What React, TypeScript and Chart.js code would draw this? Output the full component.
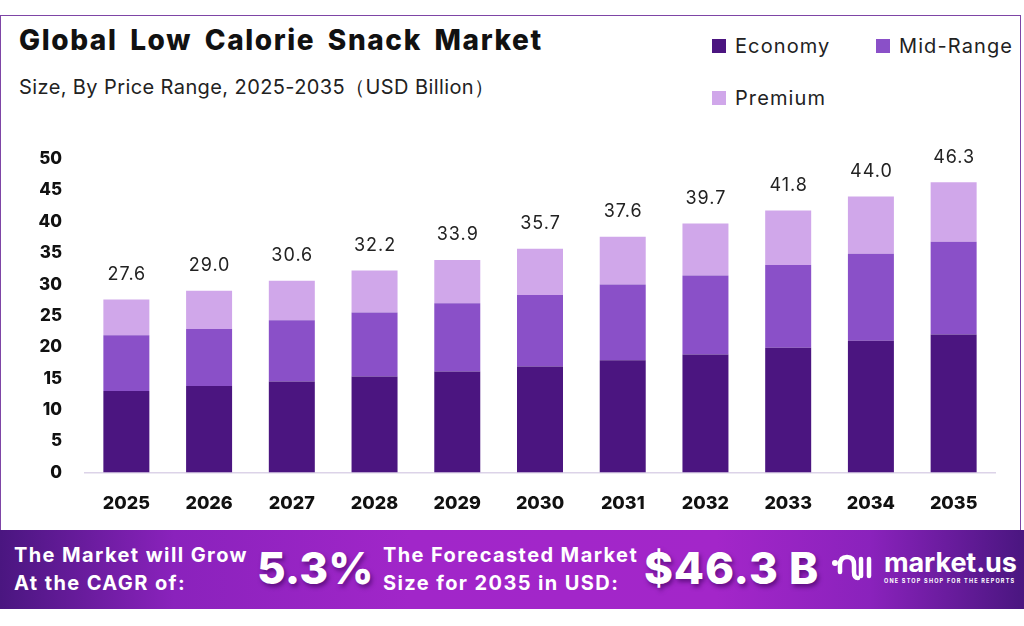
import React, { useEffect, useRef } from "react";
import { Chart, registerables } from "chart.js";

Chart.register(...registerables);

const years = ["2025", "2026", "2027", "2028", "2029", "2030", "2031", "2032", "2033", "2034", "2035"];
const economy = [13.0, 13.8, 14.5, 15.3, 16.1, 16.9, 17.9, 18.8, 19.9, 21.0, 22.0];
const midRange = [8.9, 9.1, 9.8, 10.2, 10.9, 11.4, 12.1, 12.6, 13.2, 13.9, 14.8];
const premium = [5.7, 6.1, 6.3, 6.7, 6.9, 7.4, 7.6, 8.3, 8.7, 9.1, 9.5];
const seriesNames = ["Economy", "Mid-Range", "Premium"];
const seriesColors = ["#4B1580", "#8A50C8", "#D0A7EA"];

const FONT = "Inter, 'Open Sans', 'DejaVu Sans', sans-serif";

const totalsPlugin = {
  id: "totals",
  afterDatasetsDraw(chart: any) {
    const ctx = chart.ctx;
    const last = chart.getDatasetMeta(chart.data.datasets.length - 1);
    ctx.save();
    ctx.font = `400 18px ${FONT}`;
    try {
      (ctx as any).letterSpacing = "1px";
    } catch (e) {}
    ctx.fillStyle = "#222222";
    ctx.textAlign = "center";
    ctx.textBaseline = "middle";
    years.forEach((_, i) => {
      const total = economy[i] + midRange[i] + premium[i];
      const el = last.data[i];
      ctx.fillText(total.toFixed(1), el.x + 0.5, el.y - 25);
    });
    ctx.restore();
  },
};

function ChartCanvas() {
  const ref = useRef<HTMLCanvasElement | null>(null);
  useEffect(() => {
    if (!ref.current) return;
    const chart = new Chart(ref.current, {
      type: "bar",
      data: {
        labels: years,
        datasets: [economy, midRange, premium].map((d, i) => ({
          label: seriesNames[i],
          data: d,
          backgroundColor: seriesColors[i],
          borderWidth: 0,
          barPercentage: 0.556,
          categoryPercentage: 1,
        })),
      },
      options: {
        animation: false,
        responsive: false,
        maintainAspectRatio: false,
        layout: { padding: { top: 159, left: 0, right: 29, bottom: 103.5 } },
        plugins: { legend: { display: false }, tooltip: { enabled: false } },
        scales: {
          x: {
            stacked: true,
            grid: { display: false, drawTicks: false },
            border: { display: true, color: "#DCD3E8", width: 1.5 },
            ticks: {
              color: "#111111",
              font: { family: FONT, size: 18, weight: "800" },
              padding: 20,
            },
            afterFit: (s: any) => {
              s.height = 50;
            },
          },
          y: {
            stacked: true,
            min: 0,
            max: 50,
            grid: { display: false, drawTicks: false },
            border: { display: false },
            ticks: {
              stepSize: 5,
              color: "#111111",
              font: { family: FONT, size: 17, weight: "800" },
              padding: 23,
            },
            afterFit: (s: any) => {
              s.width = 85;
            },
          },
        },
      },
      plugins: [totalsPlugin],
    });
    return () => chart.destroy();
  }, []);
  return (
    <canvas
      ref={ref}
      width={1024}
      height={626}
      style={{ position: "absolute", left: 0, top: 0, width: 1024, height: 626 }}
    />
  );
}

function Legend() {
  const item = (i: number, left: number, top: number) => (
    <div
      key={i}
      style={{ position: "absolute", left, top, display: "flex", alignItems: "center", height: 24 }}
    >
      <div style={{ width: 14, height: 14, background: seriesColors[i], marginRight: 9 }} />
      <span style={{ fontSize: 20, color: "#222", fontFamily: FONT, letterSpacing: 1.1 }}>{seriesNames[i]}</span>
    </div>
  );
  return (
    <>
      {item(0, 712, 34)}
      {item(1, 876, 34)}
      {item(2, 712, 86)}
    </>
  );
}

function Logo() {
  return (
    <div style={{ position: "absolute", left: 831, top: 550, display: "flex", alignItems: "center" }}>
      <svg width="42" height="34" viewBox="0 0 42 34">
        <circle cx="4" cy="13" r="3" fill="#fff" />
        <path d="M9 22 L9 15 Q9 7 16 7 Q23 7 23 15 L23 22 Q23 28 27 28" stroke="#fff" strokeWidth="4.5" fill="none" strokeLinecap="round" />
        <line x1="30" y1="9" x2="30" y2="26" stroke="#fff" strokeWidth="4.5" strokeLinecap="round" />
        <line x1="38" y1="9" x2="38" y2="26" stroke="#fff" strokeWidth="4.5" strokeLinecap="round" />
      </svg>
      <div style={{ marginLeft: 11, color: "#fff", fontFamily: FONT }}>
        <div style={{ fontSize: 27, fontWeight: 700, lineHeight: "26px", letterSpacing: -0.1 }}>market.us</div>
        <div style={{ fontSize: 5.5, fontWeight: 700, letterSpacing: 1.2, marginTop: 2 }}>ONE STOP SHOP FOR THE REPORTS</div>
      </div>
    </div>
  );
}

export default function App() {
  const smallBold: React.CSSProperties = {
    position: "absolute",
    color: "#fff",
    fontFamily: FONT,
    fontWeight: 700,
    fontSize: 20,
    lineHeight: "28px",
    letterSpacing: 1.4,
    whiteSpace: "nowrap",
  };
  const bigBold: React.CSSProperties = {
    position: "absolute",
    color: "#fff",
    fontFamily: FONT,
    fontWeight: 800,
    fontSize: 44,
    lineHeight: "50px",
    textShadow: "2px 3px 4px rgba(60,0,90,0.6)",
    whiteSpace: "nowrap",
  };
  return (
    <div
      style={{
        position: "fixed",
        left: 0,
        top: 0,
        width: 1024,
        height: 626,
        background: "#ffffff",
        overflow: "hidden",
        fontFamily: FONT,
      }}
    >
      <div
        style={{
          position: "absolute",
          left: 0,
          top: 15,
          width: 1021,
          height: 540,
          border: "1.5px solid #7E45A6",
          boxSizing: "border-box",
        }}
      />
      <div
        style={{
          position: "absolute",
          left: 19,
          top: 23,
          fontSize: 28,
          fontWeight: 800,
          color: "#111",
          letterSpacing: 1.6,
          wordSpacing: 5,
          whiteSpace: "nowrap",
        }}
      >
        Global Low Calorie Snack Market
      </div>
      <div
        style={{
          position: "absolute",
          left: 19,
          top: 74,
          fontSize: 20,
          color: "#222",
          letterSpacing: 0.4,
          whiteSpace: "nowrap",
        }}
      >
        Size, By Price Range, 2025-2035（USD Billion）
      </div>
      <Legend />
      <ChartCanvas />
      <div
        style={{
          position: "absolute",
          left: 0,
          top: 530,
          width: 1024,
          height: 79,
          background:
            "linear-gradient(90deg, #4A1680 0%, #8A22BC 17%, #A126C9 40%, #A326C9 70%, #8A22BC 85%, #4A1680 100%)",
        }}
      />
      <div style={{ ...smallBold, left: 14, top: 541 }}>The Market will Grow</div>
      <div style={{ ...smallBold, left: 14, top: 569 }}>At the CAGR of:</div>
      <div style={{ ...bigBold, left: 257, top: 543 }}>5.3%</div>
      <div style={{ ...smallBold, left: 383, top: 541 }}>The Forecasted Market</div>
      <div style={{ ...smallBold, left: 383, top: 569 }}>Size for 2035 in USD:</div>
      <div style={{ ...bigBold, left: 644, top: 543, letterSpacing: 0.8 }}>$46.3 B</div>
      <Logo />
    </div>
  );
}
